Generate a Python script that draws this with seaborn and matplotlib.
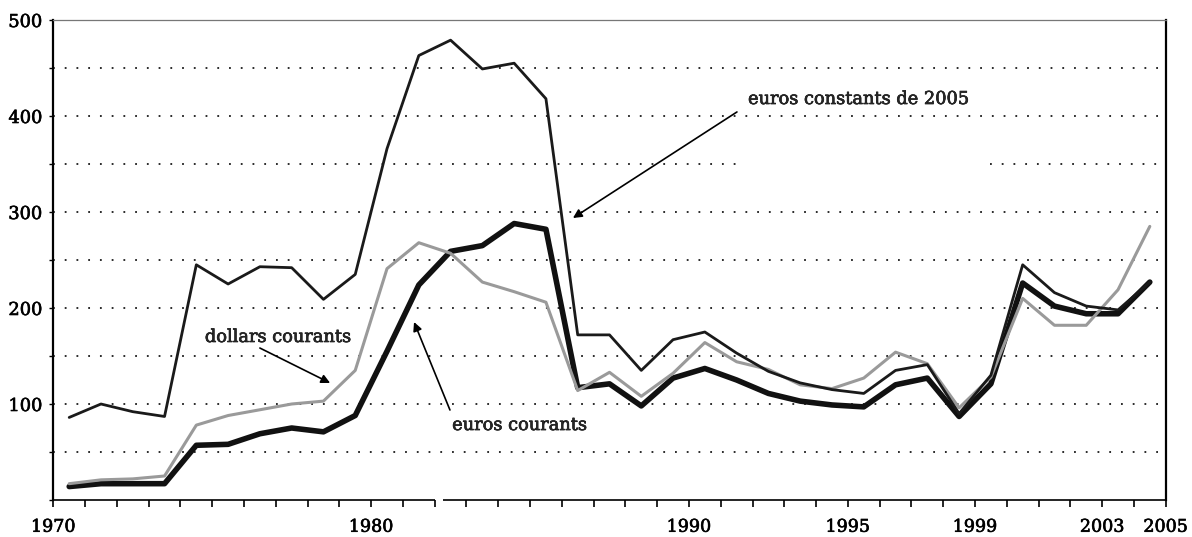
import numpy as np
import pandas as pd
import matplotlib
matplotlib.use("Agg")
import matplotlib.pyplot as plt
import matplotlib.patheffects as pe
import seaborn as sns

# Annual series, 1970-2004
years = list(range(1970, 2005))
euros_constants_2005 = [86, 100, 92, 87, 245, 225, 243, 242, 209, 235,
                        366, 463, 479, 449, 455, 418, 172, 172, 135, 167,
                        175, 153, 134, 122, 115, 111, 135, 141, 90, 130,
                        245, 216, 202, 198, 227]
euros_courants = [14, 17, 17, 17, 57, 58, 69, 75, 71, 88,
                  155, 224, 259, 265, 288, 282, 117, 121, 98, 127,
                  137, 125, 111, 103, 99, 97, 120, 127, 87, 121,
                  226, 202, 194, 194, 227]
dollars_courants = [17, 21, 22, 25, 78, 88, 94, 100, 103, 135,
                    241, 268, 257, 227, 217, 206, 114, 133, 108, 132,
                    164, 144, 136, 120, 116, 127, 154, 142, 96, 128,
                    210, 182, 182, 219, 285]

x_labels = ["1970", "1980", "1990", "1995", "1999", "2003", "2005"]
y_labels = ["100", "200", "300", "400", "500"]

sns.set_style("white")
plt.rcParams["font.family"] = ["DejaVu Serif"]

df = pd.DataFrame({
    "annee": years,
    "ec2005": euros_constants_2005,
    "ecour": euros_courants,
    "dcour": dollars_courants,
})
# each annual value sits in the middle of its year interval
df["pos"] = df["annee"] + 0.5

fig = plt.figure(figsize=(11.92, 5.37), dpi=100)
ax = fig.add_axes([53.3 / 1192, 1 - 500 / 537, 1112.4 / 1192, 480 / 537])

# dotted horizontal guides every 50
dots = (0, (1, 5.5))
for v in range(50, 500, 50):
    if v == 350:
        ax.axhline(v, xmin=0, xmax=0.617, ls=dots, lw=1.3, color="#1a1a1a", zorder=0)
        ax.axhline(v, xmin=0.842, xmax=1, ls=dots, lw=1.3, color="#1a1a1a", zorder=0)
    else:
        ax.axhline(v, ls=dots, lw=1.3, color="#1a1a1a", zorder=0)

sns.lineplot(data=df, x="pos", y="ecour", ax=ax, color="#111111", lw=4.0, zorder=3)
sns.lineplot(data=df, x="pos", y="dcour", ax=ax, color="#9a9a9a", lw=2.2, zorder=4)
sns.lineplot(data=df, x="pos", y="ec2005", ax=ax, color="#1a1a1a", lw=2.0, zorder=5)

ax.set_xlim(1970, 2005)
ax.set_ylim(0, 500)
ax.set_xlabel("")
ax.set_ylabel("")

xt = list(range(1970, 2006))
ax.set_xticks(xt)
ax.set_xticklabels([str(t) if str(t) in x_labels else "" for t in xt])
yt = list(range(0, 501, 50))
ax.set_yticks(yt)
ax.set_yticklabels([str(t) if str(t) in y_labels else "" for t in yt])

ax.tick_params(axis="x", direction="out", length=5, width=1.2, color="black",
               pad=8.5, labelsize=12.6, colors="black", bottom=True)
ax.tick_params(axis="y", direction="out", length=3, width=1.0, color="black",
               pad=5, labelsize=12.8, colors="black", left=True)

# slightly heavier glyphs for all text
heavy = [pe.withStroke(linewidth=0.45, foreground="black")]
for lab in ax.get_xticklabels() + ax.get_yticklabels():
    lab.set_path_effects(heavy)

for side in ("left", "right"):
    ax.spines[side].set_color("black")
    ax.spines[side].set_linewidth(1.6)
ax.spines["top"].set_color("#777777")
ax.spines["top"].set_linewidth(0.9)
ax.spines["bottom"].set_visible(False)
# bottom axis line with its small break
for a, b in ((0, 0.343), (0.350, 1)):
    ax.plot([a, b], [0, 0], transform=ax.transAxes, color="black", lw=1.2,
            clip_on=False, zorder=6, solid_capstyle="butt")

arrow = dict(arrowstyle="-|>", color="black", lw=1.2, mutation_scale=13,
             shrinkA=0, shrinkB=0)
fs = 12.8
ax.text(1991.86, 417.7, "euros constants de 2005", ha="left", va="center",
        fontsize=fs, path_effects=heavy)
ax.annotate("", xy=(1986.35, 293.75), xytext=(1991.51, 404.2), arrowprops=arrow)
ax.text(1974.77, 169.8, "dollars courants", ha="left", va="center",
        fontsize=fs, path_effects=heavy)
ax.annotate("", xy=(1978.71, 121.9), xytext=(1976.5, 158.3), arrowprops=arrow)
ax.text(1982.55, 78.1, "euros courants", ha="left", va="center",
        fontsize=fs, path_effects=heavy)
ax.annotate("", xy=(1981.35, 185.4), xytext=(1982.48, 93.75), arrowprops=arrow)

fig.savefig("out.png", dpi=100, facecolor="white")
